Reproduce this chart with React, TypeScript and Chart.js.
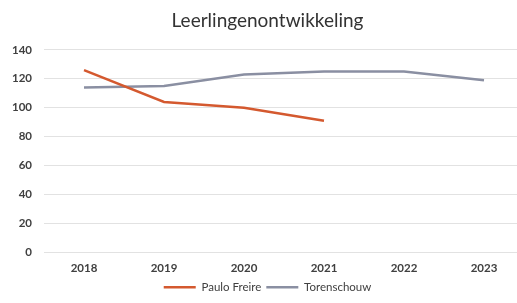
import React, { useEffect, useRef } from "react";
import { Chart, registerables } from "chart.js";

Chart.register(...registerables);

const years = ["2018", "2019", "2020", "2021", "2022", "2023"];
const pauloFreire = [126, 104, 100, 91, null, null];
const torenschouw = [114, 115, 123, 125, 125, 119];
const yTicks = [0, 20, 40, 60, 80, 100, 120, 140];

const FONT = "Lato, 'Open Sans', sans-serif";

export default function App() {
  const ref = useRef<HTMLCanvasElement>(null);
  useEffect(() => {
    document.body.style.margin = "0";
    document.body.style.overflow = "hidden";
    document.body.style.background = "#ffffff";
    const chart = new Chart(ref.current!, {
      type: "line",
      data: {
        labels: years,
        datasets: [
          {
            label: "Paulo Freire",
            data: pauloFreire,
            borderColor: "#d4592f",
            backgroundColor: "#d4592f",
            borderWidth: 2.5,
            pointRadius: 0,
            tension: 0,
          },
          {
            label: "Torenschouw",
            data: torenschouw,
            borderColor: "#8a8fa2",
            backgroundColor: "#8a8fa2",
            borderWidth: 2.5,
            pointRadius: 0,
            tension: 0,
          },
        ],
      },
      options: {
        animation: false,
        responsive: false,
        layout: { padding: { left: 11, right: 16, top: 9, bottom: 0 } },
        plugins: {
          title: {
            display: true,
            text: "Leerlingenontwikkeling",
            color: "#333333",
            font: { family: FONT, size: 19, weight: "normal" },
            padding: { top: 0, bottom: 18 },
          },
          legend: {
            position: "bottom",
            labels: {
              usePointStyle: true,
              pointStyle: "line",
              pointStyleWidth: 32,
              boxHeight: 3,
              color: "#404040",
              font: { family: FONT, size: 11.5 },
              padding: 5,
            },
          },
          tooltip: { enabled: false },
        },
        scales: {
          x: {
            offset: true,
            grid: { display: false },
            border: { display: false },
            ticks: {
              color: "#404040",
              font: { family: FONT, size: 11.5, weight: "bold" },
              padding: 1,
            },
          },
          y: {
            min: 0,
            max: 140,
            afterBuildTicks: (s: any) => {
              s.ticks = yTicks.map((v) => ({ value: v }));
            },
            afterFit: (s: any) => {
              s.width = 33;
            },
            grid: { color: "#e2e2e2", drawTicks: false },
            border: { display: false },
            ticks: {
              color: "#404040",
              font: { family: FONT, size: 11.5, weight: "bold" },
              padding: 12,
            },
          },
        },
      },
    });
    return () => chart.destroy();
  }, []);
  return (
    <div style={{ width: 540, height: 303 }}>
      <canvas ref={ref} width={540} height={303} />
    </div>
  );
}
